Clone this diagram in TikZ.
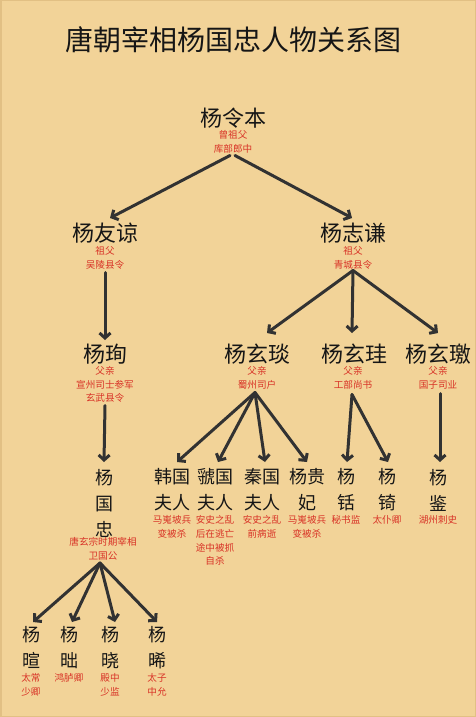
\documentclass[tikz,border=0pt]{standalone}
\usepackage{fontspec}
\setmainfont{Noto Sans CJK SC}
\usetikzlibrary{arrows.meta,calc}
\definecolor{bgc}{RGB}{242,211,152}
\definecolor{bgedge}{RGB}{226,192,132}
\definecolor{ink}{RGB}{22,22,22}
\definecolor{capred}{RGB}{216,50,38}
\definecolor{arrc}{RGB}{50,50,50}
\begin{document}
\begin{tikzpicture}[x=1pt,y=-1pt,
  titlef/.style={inner sep=0, text=ink, font=\fontsize{28}{32}\selectfont},
  bigname/.style={inner sep=0, text=ink, font=\fontsize{22}{26}\selectfont},
  smallname/.style={inner sep=0, text=ink, align=center, font=\fontsize{18}{26}\selectfont},
  capt/.style={inner sep=0, text=capred, align=center, font=\fontsize{9.6}{13.8}\selectfont},
  arrowline/.style={draw=arrc, line width=3pt, line cap=round, line join=round,
    -{Straight Barb[length=5pt,width=11pt]}}]
\fill[bgc] (0,0) rectangle (476,717);
\draw[bgedge, line width=1.5pt] (0.75,0.75) rectangle (475.25,716.25);
\useasboundingbox (0,0) rectangle (476,717);

% title
\node[titlef] (title) at (233,40) {唐朝宰相杨国忠人物关系图};

% generation 1
\node[bigname] (lb) at (233,118) {杨令本};
\node[capt] (lbc) at (233,141.5) {曾祖父\\库部郎中};

% generation 2
\node[bigname] (yl) at (105,233) {杨友谅};
\node[capt] (ylc) at (105,257.5) {祖父\\吴陵县令};
\node[bigname] (zq) at (353,233) {杨志谦};
\node[capt] (zqc) at (353,257.5) {祖父\\青城县令};

% generation 3
\node[bigname] (xun) at (105,354) {杨珣};
\node[capt] (xunc) at (105,384.5) {父亲\\宣州司士参军\\玄武县令};
\node[bigname] (xy) at (257,354) {杨玄琰};
\node[capt] (xyc) at (257,377.5) {父亲\\蜀州司户};
\node[bigname] (xg) at (354,354) {杨玄珪};
\node[capt] (xgc) at (353,377.5) {父亲\\工部尚书};
\node[bigname] (xj) at (438,354) {杨玄璬};
\node[capt] (xjc) at (438,377.5) {父亲\\国子司业};

% generation 4
\node[smallname] (gz) at (104,503) {杨\\国\\忠};
\node[capt] (gzc) at (103,549) {唐玄宗时期宰相\\卫国公};
\node[smallname] (hg) at (172,490) {韩国\\夫人};
\node[capt] (hgc) at (172,526.5) {马嵬坡兵\\变被杀};
\node[smallname] (gg) at (215,490) {虢国\\夫人};
\node[capt] (ggc) at (215,540.5) {安史之乱\\后在逃亡\\途中被抓\\自杀};
\node[smallname] (qg) at (262,490) {秦国\\夫人};
\node[capt] (qgc) at (262,526.5) {安史之乱\\前病逝};
\node[smallname] (gf) at (307,490) {杨贵\\妃};
\node[capt] (gfc) at (307,526.5) {马嵬坡兵\\变被杀};
\node[smallname] (yx) at (346,490) {杨\\铦};
\node[capt] (yxc) at (346,520) {秘书监};
\node[smallname] (yq) at (387,490) {杨\\锜};
\node[capt] (yqc) at (387,520) {太仆卿};
\node[smallname] (yj) at (438,490) {杨\\鉴};
\node[capt] (yjc) at (438,520) {湖州刺史};

% generation 5
\node[smallname] (b1) at (32,647.5) {杨\\暄};
\node[capt] (b1c) at (31,685) {太常\\少卿};
\node[smallname] (b2) at (69,647.5) {杨\\昢};
\node[capt] (b2c) at (69,678) {鸿胪卿};
\node[smallname] (b3) at (110,647.5) {杨\\晓};
\node[capt] (b3c) at (110,685) {殿中\\少监};
\node[smallname] (b4) at (157,647.5) {杨\\晞};
\node[capt] (b4c) at (157,685) {太子\\中允};

% connectors
\draw[arrowline] ($(lbc)+(-3,14)$) -- ($(yl)+(5,-15)$);
\draw[arrowline] ($(lbc)+(2,14)$) -- ($(zq)+(-1,-15)$);
\draw[arrowline] ($(ylc)+(0,15)$) -- ($(xun)+(0,-14)$);
\draw[arrowline] ($(xunc)+(0,21)$) -- ($(gz)+(0,-41)$);
\draw[arrowline] ($(zqc)+(0,13)$) -- ($(xy)+(10,-21)$);
\draw[arrowline] ($(zqc)+(0,13)$) -- ($(xg)+(-2,-21)$);
\draw[arrowline] ($(zqc)+(0,13)$) -- ($(xj)+(0,-21)$);
\draw[arrowline] ($(xyc)+(-2,15)$) -- ($(hg)+(5,-28)$);
\draw[arrowline] ($(xyc)+(-2,15)$) -- ($(gg)+(3,-28)$);
\draw[arrowline] ($(xyc)+(-2,15)$) -- ($(qg)+(3,-28)$);
\draw[arrowline] ($(xyc)+(-2,15)$) -- ($(gf)+(0,-28)$);
\draw[arrowline] ($(xgc)+(-1,17)$) -- ($(yx)+(1,-28)$);
\draw[arrowline] ($(xgc)+(-1,17)$) -- ($(yq)+(1,-28)$);
\draw[arrowline] ($(xjc)+(2,16)$) -- ($(yj)+(2,-28)$);
\draw[arrowline] ($(gzc)+(-3,14)$) -- ($(b1)+(1,-25.5)$);
\draw[arrowline] ($(gzc)+(-3,14)$) -- ($(b2)+(3,-25.5)$);
\draw[arrowline] ($(gzc)+(-3,14)$) -- ($(b3)+(5,-25.5)$);
\draw[arrowline] ($(gzc)+(-3,14)$) -- ($(b4)+(0,-25.5)$);
\end{tikzpicture}
\end{document}
